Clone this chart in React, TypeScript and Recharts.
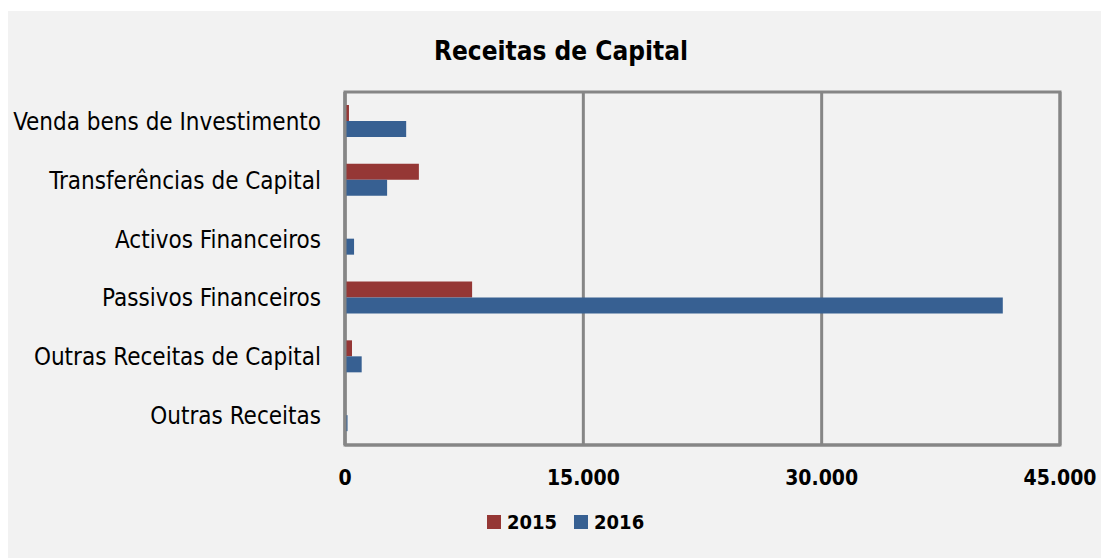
import { BarChart, Bar, XAxis, YAxis, CartesianGrid, Legend, ReferenceArea } from 'recharts';

// Receitas de Capital: 2015 vs 2016
const categories = [
  'Venda bens de Investimento',
  'Transferências de Capital',
  'Activos Financeiros',
  'Passivos Financeiros',
  'Outras Receitas de Capital',
  'Outras Receitas',
];
const values2015 = [250, 4650, 0, 8000, 440, 30];
const values2016 = [3850, 2650, 570, 41400, 1050, 160];
const xTicks = [0, 15000, 30000, 45000];

const RED = '#953735';
const BLUE = '#376092';
const GRID = '#868686';
const FONT = '"Liberation Sans Narrow", "DejaVu Sans Condensed", "Liberation Sans", sans-serif';

const formatThousands = (v: number) =>
  v === 0 ? '0' : v.toLocaleString('de-DE', { maximumFractionDigits: 0 });

function LegendContent() {
  const items = [
    { name: '2015', color: RED },
    { name: '2016', color: BLUE },
  ];
  return (
    <div style={{ display: 'flex', alignItems: 'center', gap: 17, fontFamily: FONT, fontWeight: 700, fontSize: 20 }}>
      {items.map((it) => (
        <div key={it.name} style={{ display: 'flex', alignItems: 'center', gap: 6 }}>
          <span style={{ display: 'inline-block', width: 14, height: 14, background: it.color }} />
          <span>{it.name}</span>
        </div>
      ))}
    </div>
  );
}

export default function App() {
  const data = categories.map((name, i) => ({
    name,
    y2015: values2015[i],
    y2016: values2016[i],
  }));

  return (
    <div style={{ position: 'absolute', left: 0, top: 0, width: 1101, height: 558, background: '#ffffff' }}>
      <div style={{ position: 'absolute', left: 8, top: 11, width: 1093, height: 547, background: '#f2f2f2' }}>
        <div
          style={{
            position: 'absolute',
            left: 0,
            top: 25,
            width: 1106,
            textAlign: 'center',
            fontFamily: FONT,
            fontWeight: 700,
            fontSize: 26,
            color: '#000',
          }}
        >
          Receitas de Capital
        </div>
        <BarChart
          width={1093}
          height={547}
          data={data}
          layout="vertical"
          barSize={16}
          barGap={0}
          margin={{ top: 81, right: 41, left: 0, bottom: 15 }}
          style={{ position: 'absolute', left: 0, top: 0 }}
        >
          <CartesianGrid horizontal={false} stroke={GRID} strokeWidth={3} />
          <XAxis
            type="number"
            domain={[0, 45000]}
            ticks={xTicks}
            tickFormatter={formatThousands}
            axisLine={{ stroke: GRID, strokeWidth: 3 }}
            tickLine={false}
            tickSize={0}
            tickMargin={25}
            height={65}
            tick={{ fill: '#000', fontFamily: FONT, fontWeight: 700, fontSize: 21 }}
            interval={0}
          />
          <YAxis
            type="category"
            dataKey="name"
            width={337}
            axisLine={{ stroke: GRID, strokeWidth: 3 }}
            tickLine={false}
            tickSize={0}
            tickMargin={24}
            interval={0}
            tick={{ fill: '#000', fontFamily: FONT, fontSize: 24 }}
          />
          <ReferenceArea x1={0} x2={45000} fill="none" stroke={GRID} strokeWidth={3} />
          <Legend
            verticalAlign="bottom"
            height={33}
            content={<LegendContent />}
            wrapperStyle={{ left: 479, width: 'auto' }}
          />
          <Bar dataKey="y2015" name="2015" fill={RED} isAnimationActive={false} />
          <Bar dataKey="y2016" name="2016" fill={BLUE} isAnimationActive={false} />
        </BarChart>
      </div>
    </div>
  );
}
